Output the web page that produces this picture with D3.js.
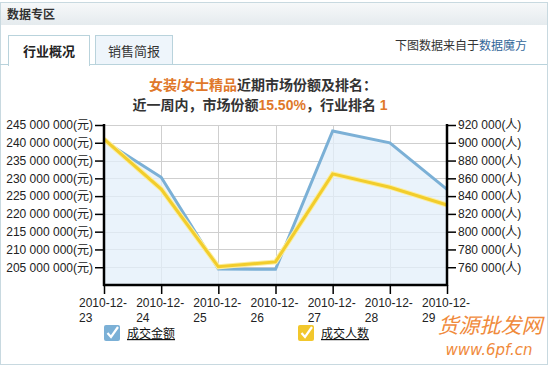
<!DOCTYPE html>
<html>
<head>
<meta charset="utf-8">
<script src="https://d3js.org/d3.v7.min.js"></script>
<style>
body { margin:0; background:#fff; font-family: Arial, "Liberation Sans", "Noto Sans CJK SC", sans-serif; }
svg { display:block; }
</style>
</head>
<body>
<svg width="549" height="366"></svg>
<script>
// chart data
let dates = ["2010-12-23","2010-12-24","2010-12-25","2010-12-26","2010-12-27","2010-12-28","2010-12-29"];
let amount = [240600000, 230300000, 204500000, 204400000, 243300000, 240000000, 226900000]; // 成交金额 (元)
let buyers = [904000, 848000, 760500, 766000, 865000, 850000, 830000]; // 成交人数 (人)
let leftTicks = [205000000,210000000,215000000,220000000,225000000,230000000,235000000,240000000,245000000];
let rightTicks = [760000,780000,800000,820000,840000,860000,880000,900000,920000];
let seriesNames = ["成交金额","成交人数"];

let svg = d3.select("svg");
let cjk = "Arial, 'Liberation Sans', 'Noto Sans CJK SC', sans-serif";

// frame / header
let grad = svg.append("defs").append("linearGradient").attr("id","hdr").attr("x1",0).attr("y1",0).attr("x2",0).attr("y2",1);
grad.append("stop").attr("offset","0").attr("stop-color","#f6f8f9");
grad.append("stop").attr("offset","1").attr("stop-color","#e5ebee");
svg.append("rect").attr("x",0.5).attr("y",2.5).attr("width",547).attr("height",362)
  .attr("fill","#fff").attr("stroke","#c8d9e0");
svg.append("rect").attr("x",1).attr("y",3).attr("width",546).attr("height",22).attr("fill","url(#hdr)");
svg.append("text").attr("x",7).attr("y",19).text("数据专区")
  .attr("font-size",12).attr("font-weight","bold").attr("fill","#333").attr("font-family",cjk);

// tabs
svg.append("line").attr("x1",0).attr("x2",547).attr("y1",64.5).attr("y2",64.5).attr("stroke","#b9d3dc");
svg.append("rect").attr("x",95.5).attr("y",35.5).attr("width",77).attr("height",29)
  .attr("fill","#eef5fb").attr("stroke","#b9d3dc");
svg.append("rect").attr("x",8.5).attr("y",35.5).attr("width",81).attr("height",30)
  .attr("fill","#fff").attr("stroke","#b9d3dc");
svg.append("rect").attr("x",9).attr("y",63).attr("width",80).attr("height",3).attr("fill","#fff");
svg.append("text").attr("x",49).attr("y",56).attr("text-anchor","middle").text("行业概况")
  .attr("font-size",13).attr("font-weight","bold").attr("fill","#222").attr("font-family",cjk);
svg.append("text").attr("x",134).attr("y",56).attr("text-anchor","middle").text("销售简报")
  .attr("font-size",13).attr("fill","#333").attr("font-family",cjk);
let src = svg.append("text").attr("x",527).attr("y",50).attr("text-anchor","end")
  .attr("font-size",12).attr("fill","#333").attr("font-family",cjk);
src.append("tspan").text("下图数据来自于");
src.append("tspan").text("数据魔方").attr("fill","#336699");

// title
let t1 = svg.append("text").attr("x",263).attr("y",90).attr("text-anchor","middle")
  .attr("font-size",14).attr("font-weight","bold").attr("fill","#333").attr("font-family",cjk);
t1.append("tspan").text("女装/女士精品").attr("fill","#e0782a");
t1.append("tspan").text("近期市场份额及排名：");
let t2 = svg.append("text").attr("x",260).attr("y",110).attr("text-anchor","middle")
  .attr("font-size",14).attr("font-weight","bold").attr("fill","#333").attr("font-family",cjk);
t2.append("tspan").text("近一周内，市场份额");
t2.append("tspan").text("15.50%").attr("fill","#e0782a");
t2.append("tspan").text("，行业排名 ");
t2.append("tspan").text("1").attr("fill","#e0782a");

// scales
let x = d3.scalePoint().domain(dates).range([104, 447]);
let yL = d3.scaleLinear().domain([200000000, 245000000]).range([285, 125]);
let yR = d3.scaleLinear().domain([740000, 920000]).range([285, 125]);

// grid
let g = svg.append("g");
g.selectAll(".hg").data(leftTicks).enter().append("line")
  .attr("x1",104).attr("x2",447).attr("y1",d => Math.round(yL(d))+0.5).attr("y2",d => Math.round(yL(d))+0.5)
  .attr("stroke","#cfcfcf");
g.selectAll(".vg").data(dates).enter().append("line")
  .attr("x1",d => Math.round(x(d))+0.5).attr("x2",d => Math.round(x(d))+0.5).attr("y1",125).attr("y2",285)
  .attr("stroke","#cfcfcf");

// area under amount line
let area = d3.area().x((d,i) => x(dates[i])).y0(285).y1(d => yL(d));
svg.append("path").datum(amount).attr("d",area).attr("fill","#e3effa").attr("fill-opacity",0.75);

// lines
let lineL = d3.line().x((d,i) => x(dates[i])).y(d => yL(d));
let lineR = d3.line().x((d,i) => x(dates[i])).y(d => yR(d));
svg.append("path").datum(amount).attr("d",lineL).attr("fill","none")
  .attr("stroke","#7bb0d6").attr("stroke-width",3);
svg.append("path").datum(buyers).attr("d",lineR).attr("fill","none")
  .attr("stroke","#fbeea0").attr("stroke-width",5);
svg.append("path").datum(buyers).attr("d",lineR).attr("fill","none")
  .attr("stroke","#f2cd2c").attr("stroke-width",3);

// axes
let fmtL = d => d3.format(",")(d).replace(/,/g," ") + "(元)";
let fmtR = d => d3.format(",")(d).replace(/,/g," ") + "(人)";
let axL = svg.append("g").attr("transform","translate(104,0)")
  .call(d3.axisLeft(yL).tickValues(leftTicks).tickFormat(fmtL).tickSize(9).tickSizeOuter(0));
let axR = svg.append("g").attr("transform","translate(447,0)")
  .call(d3.axisRight(yR).tickValues(rightTicks).tickFormat(fmtR).tickSize(9).tickSizeOuter(0));
let axB = svg.append("g").attr("transform","translate(0,285)")
  .call(d3.axisBottom(x).tickSize(9).tickSizeOuter(0).tickFormat(""));
[axL, axR, axB].forEach(a => {
  a.select(".domain").remove();
  a.selectAll(".tick line").attr("stroke","#000").attr("stroke-width",1.5);
  a.selectAll("text").attr("font-size",12).attr("fill","#222").attr("font-family",cjk);
});
axL.selectAll(".tick text").attr("x",-11);
axR.selectAll(".tick text").attr("x",11);
svg.append("line").attr("x1",104).attr("x2",104).attr("y1",124).attr("y2",286).attr("stroke","#000").attr("stroke-width",2.5);
svg.append("line").attr("x1",447).attr("x2",447).attr("y1",124).attr("y2",286).attr("stroke","#000").attr("stroke-width",2.5);
svg.append("line").attr("x1",103).attr("x2",448).attr("y1",285).attr("y2",285).attr("stroke","#000").attr("stroke-width",2.5);

// x labels, wrapped after the month
let xl = svg.append("g").selectAll("text").data(dates).enter().append("text")
  .attr("x",d => x(d)-25).attr("y",307)
  .attr("font-size",12).attr("fill","#222").attr("font-family",cjk);
xl.append("tspan").text(d => d.slice(0,8));
xl.append("tspan").attr("x",d => x(d)-25).attr("dy",15).text(d => d.slice(8));

// legend
let legColors = ["#7bb0d6","#f2c72c"];
let legX = [104, 298];
let leg = svg.append("g").selectAll("g").data(seriesNames).enter().append("g")
  .attr("transform",(d,i) => "translate(" + legX[i] + ",325)");
leg.append("rect").attr("width",16).attr("height",16).attr("rx",2).attr("fill",(d,i) => legColors[i]);
leg.append("path").attr("d","M3.5,8 L7,12 L14,2").attr("fill","none").attr("stroke","#fff").attr("stroke-width",2.2);
leg.append("text").attr("x",23).attr("y",13).text(d => d)
  .attr("font-size",12).attr("fill","#111").attr("text-decoration","underline").attr("font-family",cjk);

// watermark
svg.append("text").attr("x",490).attr("y",333).attr("text-anchor","middle").text("货源批发网")
  .attr("font-size",21).attr("fill","#f08a3c").attr("font-style","italic").attr("font-family",cjk);
svg.append("text").attr("x",489).attr("y",355).attr("text-anchor","middle").text("www.6pf.cn")
  .attr("font-size",15).attr("fill","#f08a3c").attr("font-style","italic").attr("font-family","'DejaVu Sans', sans-serif");
</script>
</body>
</html>
